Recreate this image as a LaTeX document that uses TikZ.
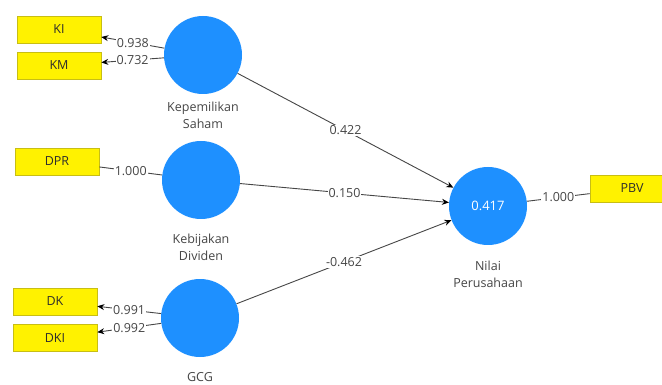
\documentclass[tikz,border=0pt]{standalone}
\usepackage{fontspec}
\setmainfont{Open Sans}
\usetikzlibrary{arrows.meta}
\definecolor{cblue}{RGB}{30,144,255}
\definecolor{ybord}{RGB}{200,190,20}
\definecolor{lc}{RGB}{70,70,70}
\definecolor{lbl}{RGB}{70,70,70}
\definecolor{txt}{RGB}{45,45,45}
\begin{document}
\begin{tikzpicture}[x=1pt,y=-1pt,
  lv/.style={circle,fill=cblue,draw=none,minimum size=78pt,inner sep=0pt,text=white,font=\fontsize{13}{15}\selectfont},
  ind/.style={rectangle,fill=yellow,draw=ybord,line width=0.6pt,minimum width=84pt,minimum height=27pt,inner sep=0pt,text=txt,font=\fontsize{12.5}{14}\selectfont},
  wt/.style={fill=white,inner sep=1pt,text=lbl,font=\fontsize{12.5}{14}\selectfont},
  nm/.style={align=center,text=lbl,font=\fontsize{12.5}{17}\selectfont},
  conn/.style={draw=lc,line width=0.9pt},
  arr/.style={conn,-{Stealth[length=7pt,width=6pt,color=black]}}
]
\useasboundingbox (0,0) rectangle (662,385);
\clip (0,0) rectangle (662,385);
\fill[white] (0,0) rectangle (662,385);

% indicators
\node[ind] (KI) at (59,29.5) {KI};
\node[ind] (KM) at (59,65.5) {KM};
\node[ind] (DPR) at (57,161.5) {DPR};
\node[ind] (DK) at (55,301.5) {DK};
\node[ind] (DKI) at (55,338) {DKI};
\node[ind] (PBV) at (632,188.5) {PBV};

% latent variables
\node[lv] (ks) at (203,55) {};
\node[lv] (kb) at (201,180) {};
\node[lv] (gcg) at (200,318) {};
\node[lv] (np) at (488,206) {0.417};

% names
\node[nm] (nks) at (203,115) {Kepemilikan\\Saham};
\node[nm] (nkb) at (201,247) {Kebijakan\\Dividen};
\node[nm] (ngcg) at (200,377) {GCG};
\node[nm] (nnp) at (488,274) {Nilai\\Perusahaan};

% outer model
\draw[arr] (ks) -- node[wt] {0.938} (KI);
\draw[arr] (ks) -- node[wt] {0.732} (KM);
\draw[conn] (kb) -- node[wt] {1.000} (DPR);
\draw[arr] (gcg) -- node[wt] {0.991} (DK);
\draw[arr] (gcg) -- node[wt] {0.992} (DKI);
\draw[conn] (np) -- node[wt] {1.000} (PBV);

% inner model
\draw[arr] (ks) -- node[wt] {0.422} (np);
\draw[arr] (kb) -- node[wt] {0.150} (np);
\draw[arr] (gcg) -- node[wt] {-0.462} (np);
\end{tikzpicture}
\end{document}
